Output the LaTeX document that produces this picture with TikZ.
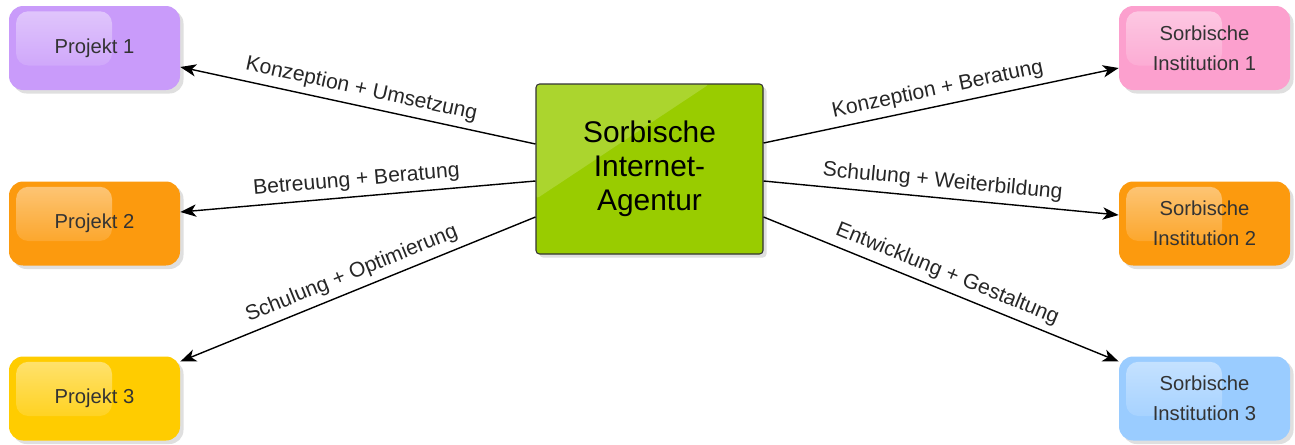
\documentclass[tikz,border=0pt]{standalone}
\usepackage{fontspec}
\setmainfont{Liberation Sans}
\usetikzlibrary{arrows.meta,shadows,fadings}

\definecolor{lila}{RGB}{201,155,250}
\definecolor{orang}{RGB}{252,154,14}
\definecolor{gelb}{RGB}{255,204,0}
\definecolor{rosa}{RGB}{252,160,206}
\definecolor{hblau}{RGB}{154,204,255}
\definecolor{gruen}{RGB}{153,204,0}

\begin{document}
\begin{tikzpicture}[
  kasten/.style={rounded corners=8pt, minimum width=3.42cm, minimum height=1.68cm,
    align=center, text=black!80, font=\fontsize{11.5}{17}\selectfont,
    drop shadow={opacity=0.25, shadow xshift=2pt, shadow yshift=-2pt},
    path picture={\fill[white, fill opacity=0.45, path fading=south, rounded corners=7pt]
      ([shift={(4pt,-3pt)}]path picture bounding box.north west) rectangle
      ([shift={(0.35cm,-0.35cm)}]path picture bounding box.center);}},
  pfeil/.style={draw, line width=0.8pt, -{Stealth[length=9pt,width=7pt,inset=2.5pt]}},
  text_pfeil/.style={font=\fontsize{12}{14}\selectfont, text=black!85, sloped, above, midway}
]
\useasboundingbox (0,0) rectangle (25.9,8.88);

\node[kasten, fill=lila] (p1) at (1.89,7.92) {Projekt 1};
\node[kasten, fill=orang] (p2) at (1.89,4.41) {Projekt 2};
\node[kasten, fill=gelb] (p3) at (1.89,0.91) {Projekt 3};
\node[kasten, fill=rosa] (i1) at (24.09,7.92) {Sorbische\\Institution 1};
\node[kasten, fill=orang] (i2) at (24.09,4.41) {Sorbische\\Institution 2};
\node[kasten, fill=hblau] (i3) at (24.09,0.91) {Sorbische\\Institution 3};

\node[draw=black!80, line width=0.6pt, fill=gruen, rounded corners=2pt,
  minimum width=4.54cm, minimum height=3.4cm, align=center,
  font=\fontsize{17}{19.5}\selectfont,
  drop shadow={opacity=0.25, shadow xshift=2pt, shadow yshift=-2pt},
  path picture={\fill[white, opacity=0.18]
    (path picture bounding box.north west) -- ([xshift=1.2cm]path picture bounding box.north)
    -- ([yshift=-0.6cm]path picture bounding box.west) -- cycle;}]
  (ag) at (12.99,5.5) {Sorbische\\Internet-\\Agentur};

\path[pfeil] ([yshift=0.5cm]ag.west) -- node[text_pfeil] {Konzeption + Umsetzung} ([yshift=-0.38cm]p1.east);
\path[pfeil] ([yshift=-0.24cm]ag.west) -- node[text_pfeil] {Betreuung + Beratung} ([yshift=0.23cm]p2.east);
\path[pfeil] ([yshift=-0.96cm]ag.west) -- node[text_pfeil] {Schulung + Optimierung} ([yshift=0.74cm]p3.east);

\path[pfeil] ([yshift=0.52cm]ag.east) -- node[text_pfeil] {Konzeption + Beratung} ([yshift=-0.4cm]i1.west);
\path[pfeil] ([yshift=-0.24cm]ag.east) -- node[text_pfeil] {Schulung + Weiterbildung} ([yshift=0.17cm]i2.west);
\path[pfeil] ([yshift=-0.96cm]ag.east) -- node[text_pfeil] {Entwicklung + Gestaltung} ([yshift=0.74cm]i3.west);
\end{tikzpicture}
\end{document}
